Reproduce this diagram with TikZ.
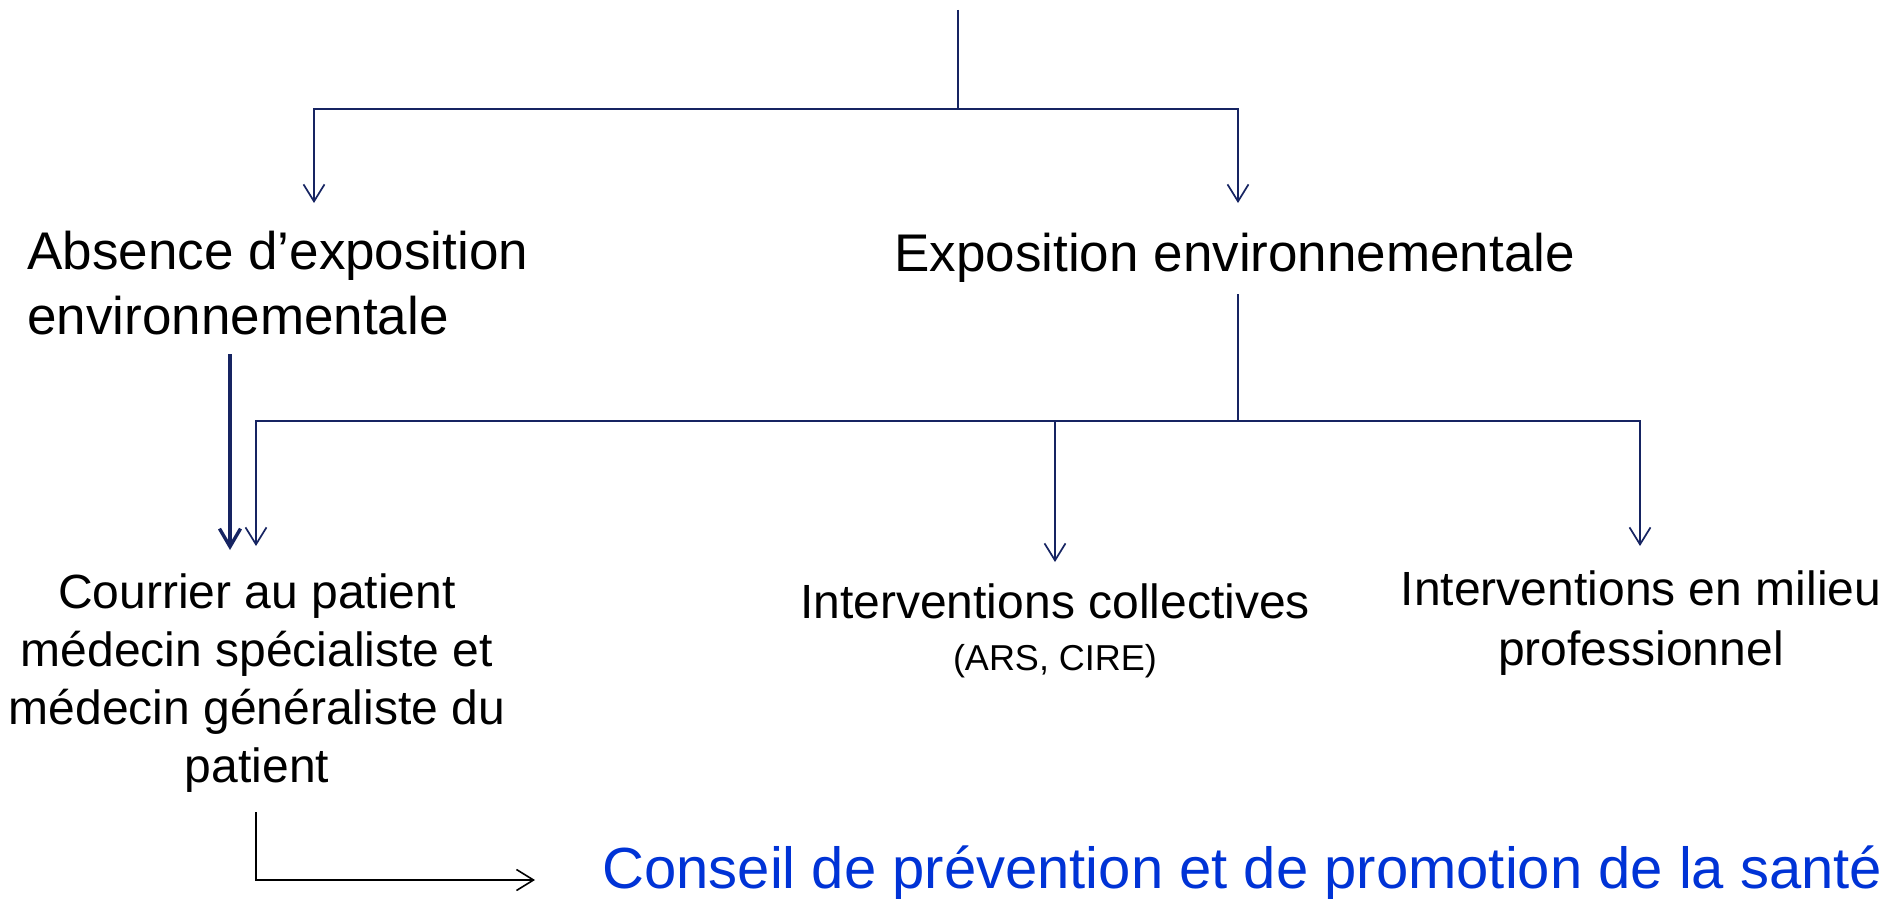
\documentclass[tikz,border=0pt]{standalone}
\usepackage{fontspec}
\setmainfont{Liberation Sans}
\usetikzlibrary{arrows.meta}
\definecolor{navy}{RGB}{22,36,98}
\definecolor{conseilblue}{RGB}{0,51,214}
\begin{document}
\begin{tikzpicture}[x=0.5pt,y=-0.5pt,
  lbl/.style={inner sep=0pt, font=\fontsize{24}{28.9}\selectfont, align=center},
  big/.style={inner sep=0pt, font=\fontsize{26.5}{32.5}\selectfont, align=left},
  link/.style={draw=navy, line width=0.85pt},
  arr/.style={link, -{Straight Barb[length=8.5pt,width=10.5pt]}},
  thickarr/.style={draw=navy, line width=1.7pt, -{Straight Barb[length=9pt,width=10.5pt]}},
  blackarr/.style={draw=black, line width=0.8pt, -{Straight Barb[length=8.5pt,width=10.5pt]}}
]
\fill[white] (0,0) rectangle (1895,899);
\useasboundingbox (0,0) rectangle (1895,899);

% texts
\node[big, anchor=west] (absence) at (27,283) {Absence d’exposition\\environnementale};
\node[big, anchor=west] (expo) at (894,258) {Exposition environnementale};
\node[lbl] (courrier) at (257,683) {Courrier au patient\\médecin spécialiste et\\médecin généraliste du\\patient};
\node[lbl] (collect) at (1055,601) {Interventions collectives};
\node[inner sep=0pt, font=\fontsize{18}{21.6}\selectfont] (ars) at (1055,661) {(ARS, CIRE)};
\node[lbl, font=\fontsize{24}{29.6}\selectfont] (milieu) at (1641,623) {Interventions en milieu\\professionnel};
\node[inner sep=0pt, anchor=west, text=conseilblue, font=\fontsize{29}{34}\selectfont] (conseil) at (602,873) {Conseil de prévention et de promotion de la santé};

% connector points
\coordinate (top) at (958,10);
\coordinate (hubA) at (958,109);
\coordinate (tipAbs) at (314,203);
\coordinate (tipExpo) at (1238,203);
\coordinate (expoOut) at (1238,294);
\coordinate (hubB) at (1238,421);
\coordinate (tipCour) at (256,546);
\coordinate (tipColl) at (1055,562);
\coordinate (tipMil) at (1640,546);
\coordinate (absOut) at (230,354);
\coordinate (tipThick) at (230,550);
\coordinate (courOut) at (256,812);
\coordinate (tipCons) at (535,880);

% connectors
\draw[link] (top) -- (hubA);
\draw[arr] (hubA) -| (tipAbs);
\draw[arr] (hubA) -| (tipExpo);
\draw[link] (expoOut) -- (hubB);
\draw[arr] (hubB) -| (tipCour);
\draw[arr] (hubB) -| (tipColl);
\draw[arr] (hubB) -| (tipMil);
\draw[thickarr] (absOut) -- (tipThick);
\draw[blackarr] (courOut) |- (tipCons);
\end{tikzpicture}
\end{document}
